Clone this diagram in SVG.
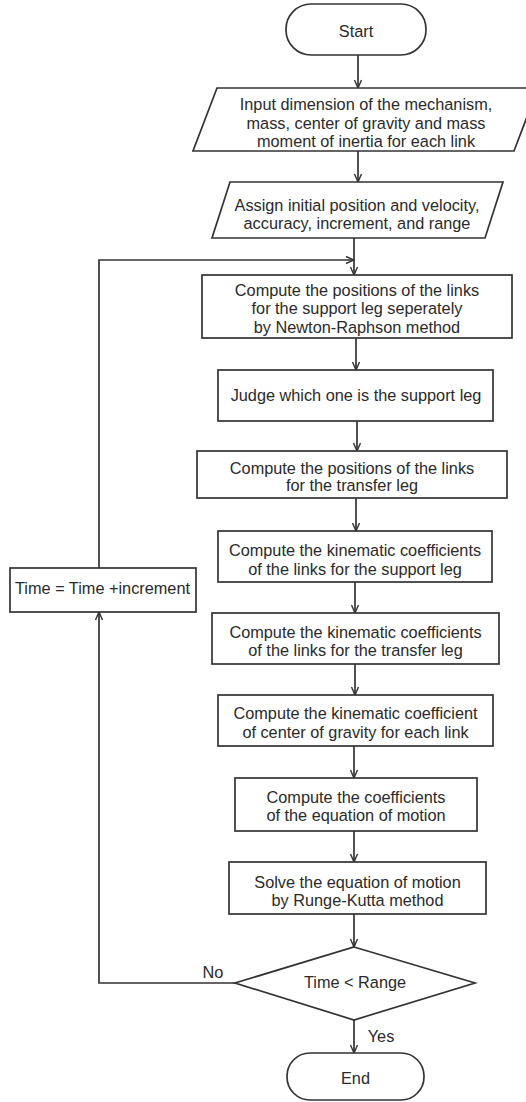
<svg xmlns="http://www.w3.org/2000/svg" width="526" height="1102" viewBox="0 0 526 1102">
<style>
.s{fill:#fff;stroke:#333;stroke-width:1.7}
.t{font-family:"Liberation Sans",Arial,sans-serif;font-size:16.3px;fill:#2a2a2a;text-anchor:middle}
.c{fill:none;stroke:#333;stroke-width:1.7}
</style>
<defs>
<marker id="a" markerWidth="10" markerHeight="10" refX="9" refY="5" orient="auto" markerUnits="userSpaceOnUse">
<path d="M1,1.5 L9,5 L1,8.5" fill="none" stroke="#333" stroke-width="1.4"/>
</marker>
</defs>
<rect width="526" height="1102" fill="#fff"/>
<g id="connectors">
<line class="c" x1="358" y1="55" x2="358" y2="88" marker-end="url(#a)"/>
<line class="c" x1="358" y1="151" x2="358" y2="182" marker-end="url(#a)"/>
<line class="c" x1="354" y1="238" x2="354" y2="275" marker-end="url(#a)"/>
<line class="c" x1="356" y1="338" x2="356" y2="370" marker-end="url(#a)"/>
<line class="c" x1="357" y1="421" x2="357" y2="451" marker-end="url(#a)"/>
<line class="c" x1="356" y1="498" x2="356" y2="531" marker-end="url(#a)"/>
<line class="c" x1="355" y1="582" x2="355" y2="613" marker-end="url(#a)"/>
<line class="c" x1="355" y1="664" x2="355" y2="695" marker-end="url(#a)"/>
<line class="c" x1="354" y1="746" x2="354" y2="778" marker-end="url(#a)"/>
<line class="c" x1="354" y1="831" x2="354" y2="862" marker-end="url(#a)"/>
<line class="c" x1="354" y1="914" x2="354" y2="947" marker-end="url(#a)"/>
<line class="c" x1="354" y1="1020" x2="354" y2="1053" marker-end="url(#a)"/>
<polyline class="c" points="235,983 99,983 99,612" marker-end="url(#a)"/>
<polyline class="c" points="99,568 99,260 354,260" marker-end="url(#a)"/>
<text class="t" x="213" y="978">No</text>
<text class="t" x="381" y="1042">Yes</text>
</g>
<g id="start">
<rect class="s" x="286" y="4" width="140" height="51" rx="25" ry="25"/>
<text class="t" x="356" y="37">Start</text>
</g>
<g id="input">
<polygon class="s" points="217,88 538,88 514,151 193,151"/>
<text class="t" x="366" y="110">Input dimension of the mechanism,</text>
<text class="t" x="366" y="128.5">mass, center of gravity and mass</text>
<text class="t" x="366" y="147">moment of inertia for each link</text>
</g>
<g id="assign">
<polygon class="s" points="230,182 503,182 485,238 212,238"/>
<text class="t" x="357" y="211">Assign initial position and velocity,</text>
<text class="t" x="357" y="229">accuracy, increment, and range</text>
</g>
<g id="box1">
<rect class="s" x="202" y="275" width="310" height="63"/>
<text class="t" x="357" y="296">Compute the positions of the links</text>
<text class="t" x="357" y="314">for the support leg seperately</text>
<text class="t" x="357" y="333">by Newton-Raphson method</text>
</g>
<g id="judge">
<rect class="s" x="218" y="370" width="275" height="51"/>
<text class="t" x="356" y="401">Judge which one is the support leg</text>
</g>
<g id="box3">
<rect class="s" x="197" y="451" width="310" height="47"/>
<text class="t" x="352" y="474">Compute the positions of the links</text>
<text class="t" x="352" y="491">for the transfer leg</text>
</g>
<g id="box4">
<rect class="s" x="218" y="531" width="274" height="51"/>
<text class="t" x="355" y="556">Compute the kinematic coefficients</text>
<text class="t" x="355" y="575">of the links for the support leg</text>
</g>
<g id="box5">
<rect class="s" x="212" y="613" width="287" height="51"/>
<text class="t" x="355.5" y="638">Compute the kinematic coefficients</text>
<text class="t" x="355.5" y="656">of the links for the transfer leg</text>
</g>
<g id="box6">
<rect class="s" x="218" y="695" width="275" height="51"/>
<text class="t" x="355.5" y="719">Compute the kinematic coefficient</text>
<text class="t" x="355.5" y="738">of center of gravity for each link</text>
</g>
<g id="box7">
<rect class="s" x="235" y="778" width="242" height="53"/>
<text class="t" x="356" y="803">Compute the coefficients</text>
<text class="t" x="356" y="821">of the equation of motion</text>
</g>
<g id="box8">
<rect class="s" x="229" y="862" width="257" height="52"/>
<text class="t" x="357.5" y="888">Solve the equation of motion</text>
<text class="t" x="357.5" y="906">by Runge-Kutta method</text>
</g>
<g id="decision">
<polygon class="s" points="354,947 475,983 354,1020 235,983"/>
<text class="t" x="355" y="988">Time &lt; Range</text>
</g>
<g id="time">
<rect class="s" x="10" y="568" width="186" height="44"/>
<text class="t" x="102.5" y="594">Time = Time +increment</text>
</g>
<g id="end">
<rect class="s" x="287" y="1053" width="137" height="47" rx="23" ry="23"/>
<text class="t" x="355.5" y="1084">End</text>
</g>
</svg>
